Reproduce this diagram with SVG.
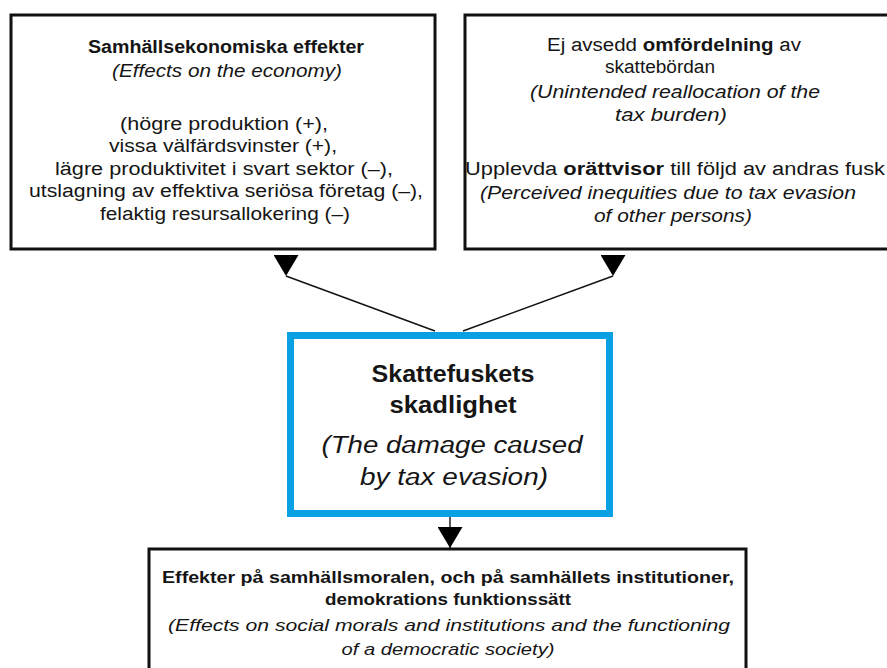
<svg xmlns="http://www.w3.org/2000/svg" width="887" height="668" viewBox="0 0 887 668">
  <defs>
    <style>
      .box { fill: #ffffff; stroke: #111111; stroke-width: 3; }
      .core { fill: #ffffff; stroke: #0aa0e4; stroke-width: 7; }
      text { font-family: "Liberation Sans", "DejaVu Sans", sans-serif; fill: #151515; text-anchor: middle; }
      .t { font-size: 18px; }
      .b { font-weight: bold; }
      .i { font-style: italic; }
      .big { font-size: 23px; }
      .sm { font-size: 17px; }
      .conn { stroke: #111111; stroke-width: 1.4; fill: none; marker-end: url(#head); }
    </style>
    <!-- downward-pointing filled arrowhead, tip at the path end -->
    <marker id="head" markerUnits="userSpaceOnUse" markerWidth="26" markerHeight="22" viewBox="0 0 26 22" refX="12.5" refY="21" orient="0">
      <path d="M0,0 L25,0 L12.5,21 Z" fill="#000000"/>
    </marker>
  </defs>

  <rect width="887" height="668" fill="#ffffff"/>

  <g id="connectors">
    <path class="conn" d="M435,331 L286,276"/>
    <path class="conn" d="M463,331 L613,276"/>
    <path class="conn" d="M450,517 L450,548"/>
  </g>

  <g id="economy">
    <rect class="box" x="11" y="15" width="424" height="234"/>
    <text class="t b" x="226" y="53" textLength="276" lengthAdjust="spacingAndGlyphs">Samhällsekonomiska effekter</text>
    <text class="t i" x="227" y="77" textLength="230" lengthAdjust="spacingAndGlyphs">(Effects on the economy)</text>
    <text class="t" x="224" y="130" textLength="208" lengthAdjust="spacingAndGlyphs">(högre produktion (+),</text>
    <text class="t" x="223" y="152" textLength="228" lengthAdjust="spacingAndGlyphs">vissa välfärdsvinster (+),</text>
    <text class="t" x="224" y="175" textLength="338" lengthAdjust="spacingAndGlyphs">lägre produktivitet i svart sektor (–),</text>
    <text class="t" x="226" y="197" textLength="394" lengthAdjust="spacingAndGlyphs">utslagning av effektiva seriösa företag (–),</text>
    <text class="t" x="225" y="220" textLength="250" lengthAdjust="spacingAndGlyphs">felaktig resursallokering (–)</text>
  </g>

  <g id="redistribution">
    <rect class="box" x="465" y="15" width="430" height="234"/>
    <text class="t" x="674" y="51" textLength="254" lengthAdjust="spacingAndGlyphs">Ej avsedd <tspan class="b">omfördelning</tspan> av</text>
    <text class="t" x="660" y="73" textLength="110" lengthAdjust="spacingAndGlyphs">skattebördan</text>
    <text class="t i" x="675" y="98" textLength="290" lengthAdjust="spacingAndGlyphs">(Unintended reallocation of the</text>
    <text class="t i" x="671" y="121" textLength="112" lengthAdjust="spacingAndGlyphs">tax burden)</text>
    <text class="t" x="675" y="175" textLength="420" lengthAdjust="spacingAndGlyphs">Upplevda <tspan class="b">orättvisor</tspan> till följd av andras fusk</text>
    <text class="t i" x="668" y="199" textLength="376" lengthAdjust="spacingAndGlyphs">(Perceived inequities due to tax evasion</text>
    <text class="t i" x="673" y="222" textLength="158" lengthAdjust="spacingAndGlyphs">of other persons)</text>
  </g>

  <g id="damage">
    <rect class="core" x="290.5" y="335.5" width="319" height="178"/>
    <text class="big b" x="453" y="382" textLength="163" lengthAdjust="spacingAndGlyphs">Skattefuskets</text>
    <text class="big b" x="453" y="413" textLength="127" lengthAdjust="spacingAndGlyphs">skadlighet</text>
    <text class="big i" x="452" y="453" textLength="261" lengthAdjust="spacingAndGlyphs">(The damage caused</text>
    <text class="big i" x="454" y="485" textLength="188" lengthAdjust="spacingAndGlyphs">by tax evasion)</text>
  </g>

  <g id="morals">
    <rect class="box" x="149" y="549" width="597" height="140"/>
    <text class="sm b" x="448" y="583" textLength="572" lengthAdjust="spacingAndGlyphs">Effekter på samhällsmoralen, och på samhällets institutioner,</text>
    <text class="sm b" x="448" y="605" textLength="246" lengthAdjust="spacingAndGlyphs">demokrations funktionssätt</text>
    <text class="sm i" x="449" y="631" textLength="562" lengthAdjust="spacingAndGlyphs">(Effects on social morals and institutions and the functioning</text>
    <text class="sm i" x="448" y="655" textLength="213" lengthAdjust="spacingAndGlyphs">of a democratic society)</text>
  </g>
</svg>
